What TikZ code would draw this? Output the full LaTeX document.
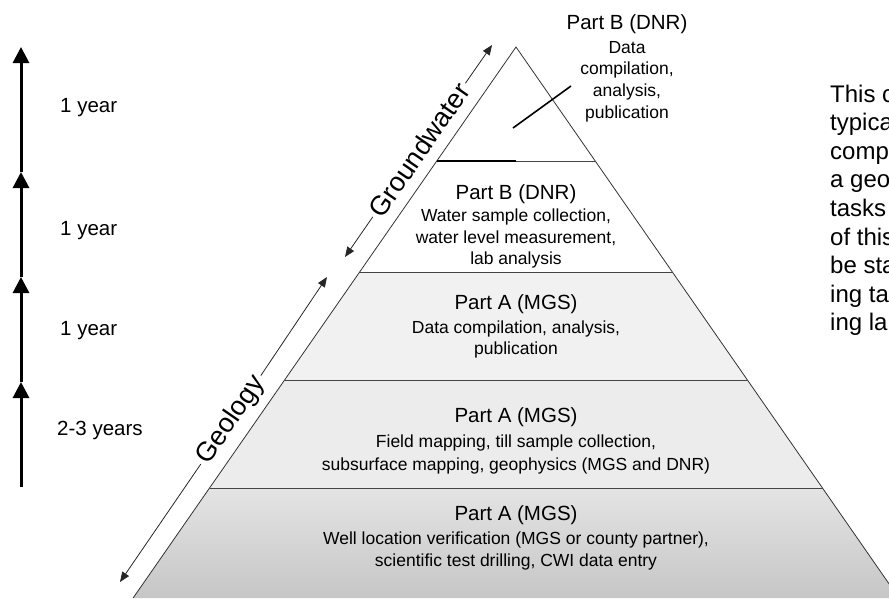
\documentclass[tikz,border=0pt]{standalone}
\usepackage{fontspec}
\setmainfont{Liberation Sans}
\usetikzlibrary{arrows.meta}
\definecolor{edgecol}{HTML}{333333}
\definecolor{sepcol}{HTML}{444444}
\definecolor{layerthree}{HTML}{F1F1F1}
\definecolor{layerfour}{HTML}{ECECEC}
\definecolor{layerfivetop}{HTML}{E4E4E4}
\definecolor{layerfivebot}{HTML}{C6C6C6}
\begin{document}
\begin{tikzpicture}[x=1pt,y=-1pt,
  bigtxt/.style={font=\fontsize{20.5}{24}\selectfont, inner sep=0pt, anchor=base},
  smalltxt/.style={font=\fontsize{17.5}{21}\selectfont, inner sep=0pt, anchor=base},
  yeartxt/.style={font=\fontsize{20.5}{24}\selectfont, inner sep=0pt, anchor=base west},
  sidetxt/.style={font=\fontsize{24}{28}\selectfont, inner sep=0pt, anchor=base west},
  diagtxt/.style={font=\fontsize{27}{31}\selectfont, inner sep=3pt, rotate=55.3},
  yarrow/.style={line width=3pt, -{Triangle[length=16pt,width=16pt]}},
  diagarrow/.style={line width=0.8pt, draw=black!85, -{Triangle[length=10pt,width=8pt]}},
  edgeline/.style={draw=edgecol, line width=0.8pt},
  sepline/.style={draw=sepcol, line width=0.9pt}]
\useasboundingbox (0,0) rectangle (889,598);
\clip (0,0) rectangle (889,598);

% pyramid corner points
\coordinate (A) at (516,47);
\coordinate (L1) at (436.8,161); \coordinate (R1) at (595.2,161);
\coordinate (L2) at (359.6,272); \coordinate (R2) at (672.4,272);
\coordinate (L3) at (284.6,380); \coordinate (R3) at (747.4,380);
\coordinate (L4) at (209.5,488); \coordinate (R4) at (822.5,488);
\coordinate (L5) at (133.1,598); \coordinate (R5) at (898.9,598);
\coordinate (M1) at (516,161);

% layer fills
\fill[layerthree] (L2) -- (R2) -- (R3) -- (L3) -- cycle;
\fill[layerfour] (L3) -- (R3) -- (R4) -- (L4) -- cycle;
\shade[top color=layerfivetop, bottom color=layerfivebot] (L4) -- (R4) -- (R5) -- (L5) -- cycle;

% outline and separators
\draw[edgeline] (L5) -- (A) -- (R5);
\draw[sepline] (L1) -- (R1);
\draw[line width=1.8pt] (L1) -- (M1);
\draw[sepline] (L2) -- (R2);
\draw[sepline] (L3) -- (R3);
\draw[sepline] (L4) -- (R4);

% leader line in the top triangle
\coordinate (ld1) at (513,128);
\coordinate (ld2) at (571,86);
\draw[line width=1.6pt] (ld1) -- (ld2);

% diagonal arrows with labels
\coordinate (gwlo) at (345,257);
\coordinate (gwhi) at (492,45);
\node[diagtxt] (gw) at (419,150) {Groundwater};
\draw[diagarrow] (gw) -- (gwlo);
\draw[diagarrow] (gw) -- (gwhi);

\coordinate (gelo) at (120,582);
\coordinate (gehi) at (327,277);
\node[diagtxt] (geo) at (231,420) {Geology};
\draw[diagarrow] (geo) -- (gelo);
\draw[diagarrow] (geo) -- (gehi);

% vertical time arrows
\coordinate (v0) at (21,487);
\coordinate (v1) at (21,382);
\coordinate (v2) at (21,277);
\coordinate (v3) at (21,172);
\coordinate (v4) at (21,47);
\draw[yarrow] (v0) -- (v1);
\draw[yarrow] (v1) -- (v2);
\draw[yarrow] (v2) -- (v3);
\draw[yarrow] (v3) -- (v4);

\node[yeartxt] (y1) at (60,112) {1 year};
\node[yeartxt] (y2) at (60,235) {1 year};
\node[yeartxt] (y3) at (60,335) {1 year};
\node[yeartxt] (y4) at (57,435) {2-3 years};

% top block
\node[bigtxt] (t1) at (627,29) {Part B (DNR)};
\node[smalltxt] (t2) at (627,53) {Data};
\node[smalltxt] (t3) at (627,74) {compilation,};
\node[smalltxt] (t4) at (627,96) {analysis,};
\node[smalltxt] (t5) at (627,118) {publication};

% layer 2
\node[bigtxt] (b1) at (516,199) {Part B (DNR)};
\node[smalltxt] (b2) at (516,221) {Water sample collection,};
\node[smalltxt] (b3) at (516,243) {water level measurement,};
\node[smalltxt] (b4) at (516,264) {lab analysis};

% layer 3
\node[bigtxt] (c1) at (516,309) {Part A (MGS)};
\node[smalltxt] (c2) at (516,333) {Data compilation, analysis,};
\node[smalltxt] (c3) at (516,354) {publication};

% layer 4
\node[bigtxt] (d1) at (516,422) {Part A (MGS)};
\node[smalltxt] (d2) at (516,447) {Field mapping, till sample collection,};
\node[smalltxt] (d3) at (516,470) {subsurface mapping, geophysics (MGS and DNR)};

% layer 5
\node[bigtxt] (e1) at (516,520) {Part A (MGS)};
\node[smalltxt] (e2) at (516,544) {Well location verification (MGS or county partner),};
\node[smalltxt] (e3) at (516,566) {scientific test drilling, CWI data entry};

% clipped side text
\node[sidetxt] (s1) at (830,102) {This c};
\node[sidetxt] (s2) at (830,130.6) {typica};
\node[sidetxt] (s3) at (830,159.2) {comp};
\node[sidetxt] (s4) at (830,187.8) {a geo};
\node[sidetxt] (s5) at (830,216.4) {tasks};
\node[sidetxt] (s6) at (830,245) {of this};
\node[sidetxt] (s7) at (830,273.6) {be sta};
\node[sidetxt] (s8) at (830,302.2) {ing ta};
\node[sidetxt] (s9) at (830,330.8) {ing la};
\end{tikzpicture}
\end{document}
